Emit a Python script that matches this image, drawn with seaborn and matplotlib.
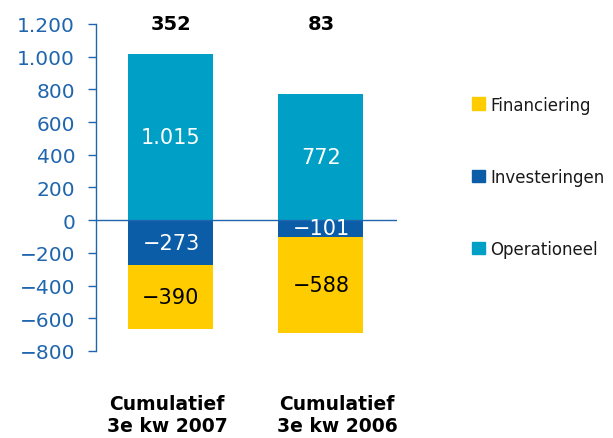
import numpy as np
import seaborn as sns
import matplotlib.pyplot as plt
from matplotlib.patches import Patch
from matplotlib.transforms import ScaledTranslation

# data
periods = ['Cumulatief\n3e kw 2007', 'Cumulatief\n3e kw 2006']
operationeel = np.array([1015, 772])
investeringen = np.array([-273, -101])
financiering = np.array([-390, -588])
totals = operationeel + investeringen + financiering

c_fin = '#FFCC00'
c_inv = '#0B5DA8'
c_ope = '#00A0C6'
c_axis = '#1F66AE'


def nl(v):
    # Dutch number format: dot as thousands separator, real minus sign
    s = f"{abs(v):,}".replace(',', '.')
    return ('\u2212' if v < 0 else '') + s


sns.set_style('white')
plt.rcParams['font.family'] = ['DejaVu Sans']

fig = plt.figure(figsize=(6.13, 4.39), dpi=100)
ax = fig.add_axes([0.1566, 0.1982, 0.491, 0.7449])

w = 0.567
sns.barplot(x=periods, y=operationeel, color=c_ope, saturation=1, width=w, linewidth=0, ax=ax)
sns.barplot(x=periods, y=investeringen + financiering, color=c_fin, saturation=1, width=w,
            linewidth=0, ax=ax)
sns.barplot(x=periods, y=investeringen, color=c_inv, saturation=1, width=w, linewidth=0, ax=ax)

ax.axhline(0, color=c_axis, lw=1)
ax.set_xlim(-0.5, 1.507)
ax.set_ylim(-800, 1200)
ax.set_yticks(range(-800, 1201, 200))
ax.set_yticklabels([nl(v) for v in range(-800, 1201, 200)])

for s in ['top', 'right', 'bottom']:
    ax.spines[s].set_visible(False)
ax.spines['left'].set_color(c_axis)
ax.spines['left'].set_linewidth(1)
ax.tick_params(axis='y', colors=c_axis, labelsize=14.5, length=6, width=1,
               direction='out', left=True, pad=9)
ax.tick_params(axis='x', length=0, pad=31, labelsize=13.5)
shifts = [-4, 16]
for lab, dx in zip(ax.get_xticklabels(), shifts):
    lab.set_fontweight('bold')
    lab.set_color('black')
    lab.set_linespacing(1.2)
    lab.set_transform(lab.get_transform() + ScaledTranslation(dx / 100, 0, fig.dpi_scale_trans))

# segment labels
for i in range(len(periods)):
    ax.text(i, operationeel[i] / 2, nl(operationeel[i]), ha='center', va='center',
            color='white', fontsize=15)
    ax.text(i, investeringen[i] / 2, nl(investeringen[i]), ha='center', va='center',
            color='white', fontsize=15)
    ax.text(i, investeringen[i] + financiering[i] / 2, nl(financiering[i]),
            ha='center', va='center', color='black', fontsize=15)
    ax.text(i, 1200, nl(totals[i]), ha='center', va='center', color='black',
            fontsize=14, fontweight='bold', clip_on=False)

handles = [Patch(color=c_fin, label='Financiering'),
           Patch(color=c_inv, label='Investeringen'),
           Patch(color=c_ope, label='Operationeel')]
leg = fig.legend(handles=handles, loc='upper left', bbox_to_anchor=(0.770, 0.780),
                 frameon=False, handlelength=0.8, handleheight=0.8, handletextpad=0.3,
                 labelspacing=3.25, fontsize=12, borderpad=0, borderaxespad=0)
for t in leg.get_texts():
    t.set_color('#1a1a1a')

fig.savefig('out.png', dpi=100, facecolor='white')
